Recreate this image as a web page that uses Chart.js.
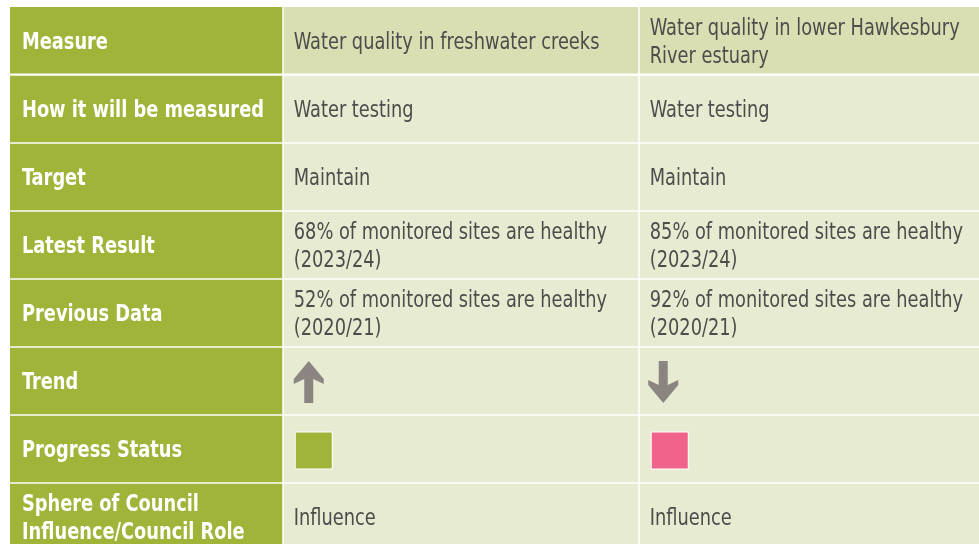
<!DOCTYPE html>
<html>
<head>
<meta charset="utf-8">
<script src="https://cdn.jsdelivr.net/npm/chart.js@4.4.1/dist/chart.umd.min.js"></script>
<style>
  html, body { margin: 0; padding: 0; background: #fff; overflow: hidden; }
  #wrap { width: 979px; height: 544px; overflow: hidden; }
</style>
</head>
<body>
<div id="wrap"><canvas id="scorecard" width="979" height="551"></canvas></div>
<script>
// rows of the scorecard
const rowLabels = ['Measure', 'How it will be measured', 'Target', 'Latest Result', 'Previous Data',
    'Trend', 'Progress Status', 'Sphere of Council Influence/Council Role'];
const rowLabelLines = [['Measure'], ['How it will be measured'], ['Target'], ['Latest Result'],
    ['Previous Data'], ['Trend'], ['Progress Status'], ['Sphere of Council', 'Influence/Council Role']];

// one entry per measure column
const measureNames = [['Water quality in freshwater creeks'], ['Water quality in lower Hawkesbury', 'River estuary']];
const methods = ['Water testing', 'Water testing'];
const targets = ['Maintain', 'Maintain'];
const latestResult = [68, 85];
const latestPeriod = '2023/24';
const previousResult = [52, 92];
const previousPeriod = '2020/21';
const trends = ['up', 'down'];
const progressStatus = ['on track', 'off track'];
const councilRole = ['Influence', 'Influence'];

const statusColours = { 'on track': '#a0b43a', 'off track': '#f0638a' };

// cell contents per row, per measure column
function cellFor(row, col) {
    switch (row) {
        case 0: return { lines: measureNames[col] };
        case 1: return { lines: [methods[col]] };
        case 2: return { lines: [targets[col]] };
        case 3: return { lines: [latestResult[col] + '% of monitored sites are healthy', '(' + latestPeriod + ')'] };
        case 4: return { lines: [previousResult[col] + '% of monitored sites are healthy', '(' + previousPeriod + ')'] };
        case 5: return { arrow: trends[col] };
        case 6: return { status: progressStatus[col] };
        default: return { lines: [councilRole[col]] };
    }
}

const colEdges = [0, 273, 629, 969];   // offsets from chartArea.left
const gap = 1.5;
const lineH = 28;
const textNudge = 2.5;
const narrow = 0.86;   // the original type is condensed
const bodyFont = '23px "Liberation Sans Narrow", "DejaVu Sans Condensed", sans-serif';
const headFont = 'bold 23px "Liberation Sans Narrow", "DejaVu Sans Condensed", sans-serif';

function narrowText(ctx, t, x, y) {
    ctx.save();
    ctx.translate(x, y);
    ctx.scale(narrow, 1);
    ctx.fillText(t, 0, 0);
    ctx.restore();
}

function drawArrow(ctx, x, cy, dir) {
    // x = left of arrow head, arrow 30 wide, 42 tall
    const s = dir === 'up' ? -1 : 1;
    const tip = cy + s * 21, tail = cy - s * 21;
    const headBase = tip - s * 22;
    ctx.save();
    ctx.fillStyle = '#8a8580';
    ctx.beginPath();
    ctx.moveTo(x + 15, tip);
    ctx.lineTo(x + 30, headBase + s * 4);
    ctx.lineTo(x + 30, headBase - s * 1);
    ctx.lineTo(x + 19.5, headBase + s * 4);
    ctx.lineTo(x + 19.5, tail);
    ctx.lineTo(x + 10.5, tail);
    ctx.lineTo(x + 10.5, headBase + s * 4);
    ctx.lineTo(x, headBase - s * 1);
    ctx.lineTo(x, headBase + s * 4);
    ctx.closePath();
    ctx.fill();
    ctx.restore();
}

const tablePlugin = {
    id: 'tablePlugin',
    afterDraw(chart) {
        const ctx = chart.ctx;
        const area = chart.chartArea;
        const y = chart.scales.y;
        const band = (area.bottom - area.top) / rowLabels.length;
        ctx.save();
        ctx.textBaseline = 'middle';
        rowLabels.forEach((label, r) => {
            const cy = y.getPixelForValue(r);
            const top = cy - band / 2;
            for (let c = 0; c < 3; c++) {
                const x0 = area.left + colEdges[c] + (c > 0 ? gap / 2 : 0);
                const x1 = area.left + colEdges[c + 1] - (c < 2 ? gap / 2 : 0);
                ctx.fillStyle = c === 0 ? '#a0b43a' : (r === 0 ? '#d9deb3' : '#e6ebd2');
                ctx.fillRect(x0, top + (r > 0 ? gap / 2 : 0), x1 - x0, band - gap);
                const tx = x0 + (c === 0 ? 12 : 10);
                if (c === 0) {
                    ctx.fillStyle = '#ffffff';
                    ctx.font = headFont;
                    const lines = rowLabelLines[r];
                    lines.forEach((t, i) => {
                        narrowText(ctx, t, tx, cy + (i - (lines.length - 1) / 2) * lineH + textNudge);
                    });
                    continue;
                }
                const cell = cellFor(r, c - 1);
                if (cell.lines) {
                    ctx.fillStyle = '#4d4d4b';
                    ctx.font = bodyFont;
                    cell.lines.forEach((t, i) => {
                        narrowText(ctx, t, tx, cy + (i - (cell.lines.length - 1) / 2) * lineH + textNudge);
                    });
                } else if (cell.arrow) {
                    drawArrow(ctx, c === 2 ? tx - 1.5 : tx, cy + 1, cell.arrow);
                } else if (cell.status) {
                    ctx.fillStyle = '#ffffff';
                    ctx.fillRect(tx + 1, cy - 17.5, 38, 38);
                    ctx.fillStyle = statusColours[cell.status];
                    ctx.fillRect(tx + 2, cy - 16.5, 36, 36);
                }
            }
        });
        ctx.restore();
    }
};

new Chart(document.getElementById('scorecard'), {
    type: 'bar',
    data: {
        labels: rowLabels,
        datasets: [{ label: 'cells', data: rowLabels.map(() => null) }]
    },
    options: {
        indexAxis: 'y',
        responsive: false,
        animation: false,
        layout: { padding: { left: 10, top: 7, right: 0, bottom: 0 } },
        plugins: { legend: { display: false }, tooltip: { enabled: false } },
        scales: {
            x: { type: 'linear', display: false, min: 0, max: 1 },
            y: { type: 'category', display: false, offset: true }
        }
    },
    plugins: [tablePlugin]
});
</script>
</body>
</html>
